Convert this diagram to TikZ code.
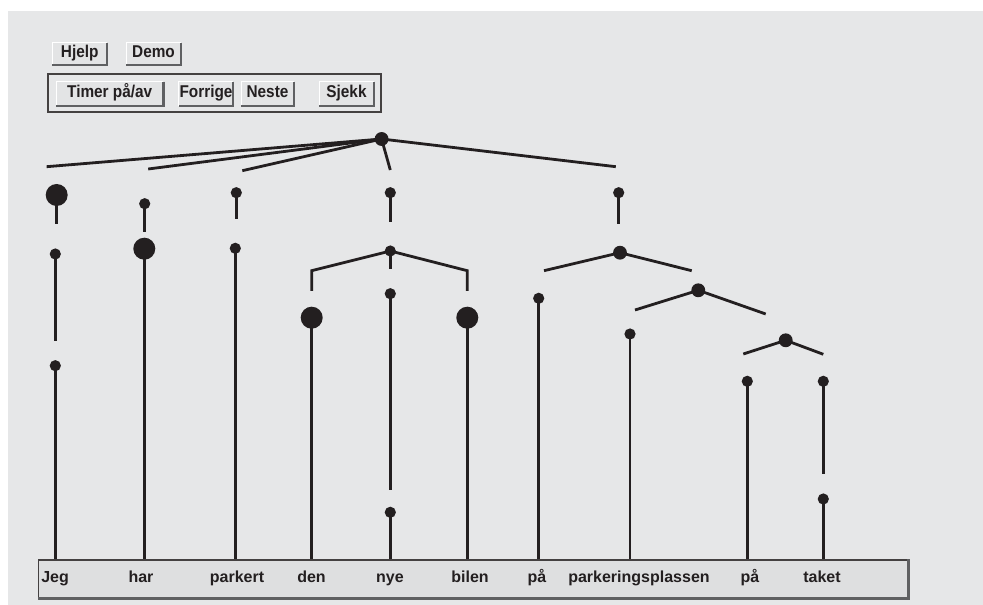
\documentclass[tikz,border=0pt]{standalone}
\usepackage{fontspec}
\setmainfont{Liberation Sans}
\newfontfamily\btnfont{Liberation Sans}[FakeStretch=0.9]
\definecolor{ink}{HTML}{231F20}
\definecolor{panel}{HTML}{E6E7E8}
\definecolor{btnfill}{HTML}{E3E4E5}
\definecolor{boxfill}{HTML}{DEDFE0}
\definecolor{shade}{HTML}{5F6062}
\begin{document}
\begin{tikzpicture}[x=0.75pt,y=-0.75pt,
  lbl/.style={font=\bfseries\fontsize{12}{14}\selectfont, text=ink},
  btn/.style={font=\btnfont\bfseries\fontsize{12.8}{15}\selectfont, text=ink, fill=btnfill, inner sep=0pt,
    text height=0.72em, text depth=0.2em, minimum height=22*0.75pt},
  tbtn/.style={btn, minimum height=24*0.75pt},
  shadowline/.style={draw=shade, line width=1.6pt},
  litline/.style={draw=white, line width=0.6pt},
  branch/.style={draw=ink, line width=2.1pt},
  dotS/.style={circle, fill=ink, inner sep=0pt, minimum size=8.4pt},
  dotM/.style={circle, fill=ink, inner sep=0pt, minimum size=10.4pt},
  dotL/.style={circle, fill=ink, inner sep=0pt, minimum size=16.5pt},
  word/.style={lbl, anchor=base, inner sep=0pt}]
\useasboundingbox (0,0) rectangle (983,605);
\fill[panel] (8,11) rectangle (983,605);

% ---- buttons ----
\node[btn, minimum width=54*0.75pt] (hjelp) at (79.7,54) {Hjelp};
\node[btn, minimum width=54*0.75pt] (demo) at (153.5,54) {Demo};
\node[draw=ink!85, line width=0.8pt, minimum width=333*0.75pt, minimum height=38*0.75pt, inner sep=0pt] (bar) at (214.5,93) {};
\node[tbtn, minimum width=107*0.75pt] (timer) at (109.7,94) {Timer på/av};
\node[tbtn, minimum width=54*0.75pt] (forrige) at (206,94) {Forrige};
\node[tbtn, minimum width=52*0.75pt] (neste) at (267.5,94) {Neste};
\node[tbtn, minimum width=54*0.75pt] (sjekk) at (346.5,94) {Sjekk};
\foreach \b in {hjelp,demo,timer,forrige,neste,sjekk}{
  \draw[litline] (\b.south west) -- (\b.north west) -- (\b.north east);
  \draw[shadowline] (\b.north east) -- (\b.south east) -- (\b.south west);
}

% ---- word box ----
\node[draw=ink!85, fill=boxfill, line width=0.8pt, minimum width=869*0.75pt, minimum height=38*0.75pt, inner sep=0pt] (words) at (473.3,579) {};
\draw[shadowline, line width=2pt] (words.north east) -- (words.south east) -- (words.south west);

\node[word, anchor=base west] (w1) at (41,583) {Jeg};
\node[word] (w2) at (141,583) {har};
\node[word] (w3) at (237,583) {parkert};
\node[word] (w4) at (311.5,583) {den};
\node[word] (w5) at (390,583) {nye};
\node[word] (w6) at (470,583) {bilen};
\node[word] (w7) at (537,583) {på};
\node[word] (w8) at (639,583) {parkeringsplassen};
\node[word] (w9) at (750,583) {på};
\node[word] (w10) at (822,583) {taket};

% ---- dots ----
\node[dotM] (root) at (381.6,139) {};
\node[dotL] (jA) at (56.7,195) {};
\node[dotS] (jB) at (55.3,254) {};
\node[dotS] (jC) at (55.3,365.7) {};
\node[dotS] (hA) at (144.7,203.7) {};
\node[dotL] (hB) at (144.3,248.7) {};
\node[dotS] (pA) at (236.3,192.7) {};
\node[dotS] (pB) at (235.3,248.3) {};
\node[dotS] (nA) at (390.3,192.7) {};
\node[dotS] (nB) at (390.3,251) {};
\node[dotL] (den) at (311.7,317.7) {};
\node[dotS] (nyeA) at (390.3,293.7) {};
\node[dotS] (nyeB) at (390.3,512.3) {};
\node[dotL] (bilen) at (467.3,317.7) {};
\node[dotS] (rA) at (618.7,192.7) {};
\node[dotM] (ppA) at (620,252.7) {};
\node[dotS] (paA) at (538.7,298.3) {};
\node[dotM] (ppB) at (698.3,290.3) {};
\node[dotS] (plA) at (630,334) {};
\node[dotM] (ppC) at (785.7,340.3) {};
\node[dotS] (paB) at (747.3,381.3) {};
\node[dotS] (tA) at (823.3,381.3) {};
\node[dotS] (tB) at (823.3,499) {};

% ---- free ends ----
\coordinate (r1) at (46.6,166.7);
\coordinate (r2) at (148.2,169);
\coordinate (r3) at (242.3,170.7);
\coordinate (r4) at (390.3,170);
\coordinate (r5) at (615.8,166.7);
\coordinate (jAe) at (56.7,224.3);
\coordinate (hAe) at (144.7,232);
\coordinate (pAe) at (236.3,219.3);
\coordinate (nAe) at (390.3,221.7);
\coordinate (rAe) at (618.7,224.3);
\coordinate (jBe) at (55.3,341);
\coordinate (nBe) at (390.3,269.3);
\coordinate (bl1) at (311.7,270.7);
\coordinate (bl2) at (311.7,291);
\coordinate (br1) at (467.3,270.7);
\coordinate (br2) at (467.3,291);
\coordinate (nyeAe) at (390.3,490);
\coordinate (ppAl) at (544,270.7);
\coordinate (ppAr) at (691.7,270.7);
\coordinate (ppBl) at (635,310);
\coordinate (ppBr) at (765.7,314);
\coordinate (ppCl) at (743.3,354);
\coordinate (ppCr) at (823.3,354.3);
\coordinate (tAe) at (823.3,474.3);

% ---- branches ----
\foreach \e in {r1,r2,r3,r4,r5}{\draw[branch] (root.center) -- (\e);}
\draw[branch] (jA.center) -- (jAe);
\draw[branch] (hA.center) -- (hAe);
\draw[branch] (pA.center) -- (pAe);
\draw[branch] (nA.center) -- (nAe);
\draw[branch] (rA.center) -- (rAe);
\draw[branch] (jB.center) -- (jBe);
\draw[branch] (nB.center) -- (nBe);
\draw[branch] (nB.center) -- (bl1) -- (bl2);
\draw[branch] (nB.center) -- (br1) -- (br2);
\draw[branch] (nyeA.center) -- (nyeAe);
\draw[branch] (ppAl) -- (ppA.center) -- (ppAr);
\draw[branch] (ppBl) -- (ppB.center) -- (ppBr);
\draw[branch] (ppCl) -- (ppC.center) -- (ppCr);
\draw[branch] (tA.center) -- (tAe);
\foreach \d in {jC,hB,pB,den,nyeB,bilen,paA,plA,paB,tB}{
  \draw[branch] (\d.center) -- (\d |- words.north);
}
\end{tikzpicture}
\end{document}
